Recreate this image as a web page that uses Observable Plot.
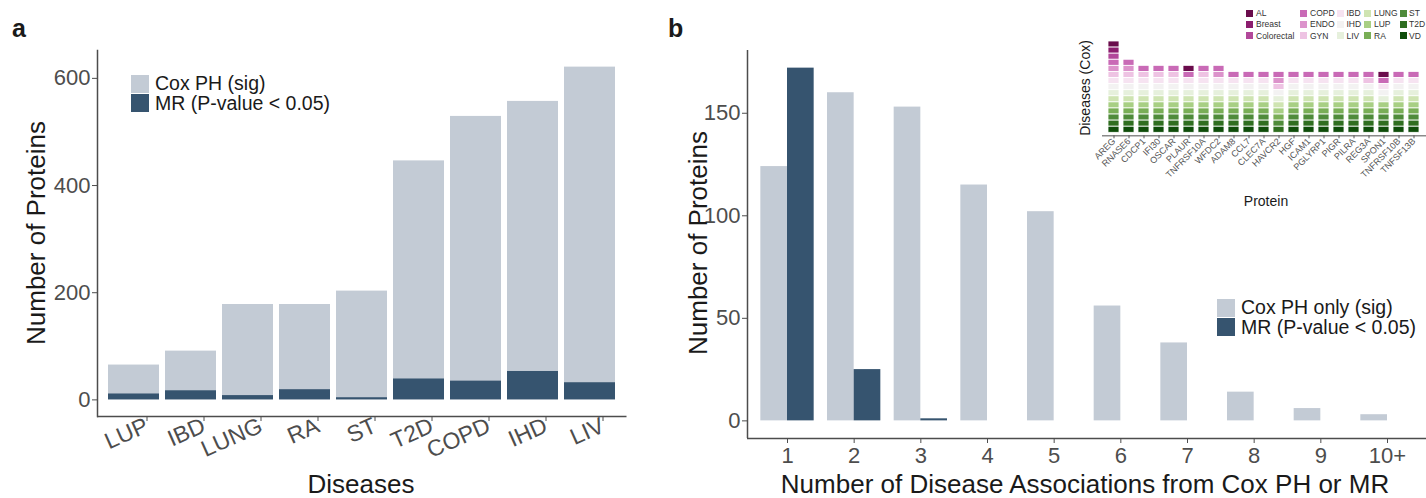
<!DOCTYPE html>
<html>
<head>
<meta charset="utf-8">
<script src="https://cdn.jsdelivr.net/npm/d3@7"></script>
<script src="https://cdn.jsdelivr.net/npm/@observablehq/plot@0.6"></script>
<style>
  html, body { margin: 0; padding: 0; background: #fff; overflow: hidden; }
  body { font-family: "Liberation Sans", Arial, Helvetica, sans-serif; color: #1a1a1a; }
  #fig { position: relative; width: 1426px; height: 498px; }
  .abs { position: absolute; white-space: nowrap; }
  .panel { font-weight: bold; font-size: 25px; }
  .title { font-size: 26px; }
  .vtitle { font-size: 26px; transform: translate(-50%, -50%) rotate(-90deg); }
  .htitle { transform: translate(-50%, -50%); }
  .sw { position: absolute; }
  .leg { font-size: 19.5px; line-height: 20px; }
  .ileg { font-size: 8.5px; line-height: 10px; color: #333; }
</style>
</head>
<body>
<div id="fig"></div>
<script>
// Panel a: proteins per disease (Cox PH significant vs MR P < 0.05)
const diseasesA = ["LUP", "IBD", "LUNG", "RA", "ST", "T2D", "COPD", "IHD", "LIV"];
const coxA = [65, 91, 178, 178, 203, 446, 529, 557, 621];
const mrA = [11, 17, 8, 19, 4, 39, 35, 53, 32];

// Panel b: proteins by number of disease associations
const assocCounts = [1, 2, 3, 4, 5, 6, 7, 8, 9, 10];
const assocLabels = ["1", "2", "3", "4", "5", "6", "7", "8", "9", "10+"];
const coxB = [124, 160, 153, 115, 102, 56, 38, 14, 6, 3];
const mrB = [172, 25, 1, 0, 0, 0, 0, 0, 0, 0];

// Inset: Cox-associated diseases of the most pleiotropic proteins
const proteins = ["AREG", "RNASE6", "CDCP1", "IFI30", "OSCAR", "PLAUR", "TNFRSF10A", "WFDC2",
  "ADAM8", "CCL7", "CLEC7A", "HAVCR2", "HGF", "ICAM1", "PGLYRP1", "PIGR", "PILRA", "REG3A",
  "SPON1", "TNFRSF10B", "TNFSF13B"];
const diseaseLevels = ["AL", "Breast", "Colorectal", "COPD", "ENDO", "GYN", "IBD", "IHD",
  "LIV", "LUNG", "LUP", "RA", "ST", "T2D", "VD"];
const diseaseColors = ["#6a0c4c", "#8c1d6e", "#b2489a", "#c96ab6", "#dc93cb", "#eec3e3",
  "#f6e3f1", "#f3f2f2", "#e6f0dc", "#cfe4b2", "#a8cf84", "#79ae56", "#4f8b3a", "#2f6e20", "#0f4d0a"];
const proteinDiseases = [
  ["AL", "Breast", "Colorectal", "COPD", "ENDO", "GYN", "IBD", "IHD", "LIV", "LUNG", "LUP", "RA", "ST", "T2D", "VD"],
  ["COPD", "GYN", "IBD", "IHD", "LIV", "LUNG", "LUP", "RA", "ST", "T2D", "VD", "ENDO"],
  ["COPD", "GYN", "IBD", "IHD", "LIV", "LUNG", "LUP", "RA", "ST", "T2D", "VD"],
  ["COPD", "GYN", "IBD", "IHD", "LIV", "LUNG", "LUP", "RA", "ST", "T2D", "VD"],
  ["COPD", "GYN", "IBD", "IHD", "LIV", "LUNG", "LUP", "RA", "ST", "T2D", "VD"],
  ["AL", "COPD", "IBD", "IHD", "LIV", "LUNG", "LUP", "RA", "ST", "T2D", "VD"],
  ["COPD", "GYN", "IBD", "IHD", "LIV", "LUNG", "LUP", "RA", "ST", "T2D", "VD"],
  ["COPD", "ENDO", "IBD", "IHD", "LIV", "LUNG", "LUP", "RA", "ST", "T2D", "VD"],
  ["COPD", "IBD", "IHD", "LIV", "LUNG", "LUP", "RA", "ST", "T2D", "VD"],
  ["COPD", "IBD", "IHD", "LIV", "LUNG", "LUP", "RA", "ST", "T2D", "VD"],
  ["COPD", "IBD", "IHD", "LIV", "LUNG", "LUP", "RA", "ST", "T2D", "VD"],
  ["COPD", "ENDO", "GYN", "IHD", "LIV", "LUNG", "LUP", "RA", "ST", "T2D"],
  ["COPD", "IBD", "IHD", "LIV", "LUNG", "LUP", "RA", "ST", "T2D", "VD"],
  ["COPD", "IBD", "IHD", "LIV", "LUNG", "LUP", "RA", "ST", "T2D", "VD"],
  ["COPD", "IBD", "IHD", "LIV", "LUNG", "LUP", "RA", "ST", "T2D", "VD"],
  ["COPD", "IBD", "IHD", "LIV", "LUNG", "LUP", "RA", "ST", "T2D", "VD"],
  ["COPD", "IBD", "IHD", "LIV", "LUNG", "LUP", "RA", "ST", "T2D", "VD"],
  ["COPD", "GYN", "IHD", "LIV", "LUNG", "LUP", "RA", "ST", "T2D", "VD"],
  ["AL", "COPD", "IBD", "IHD", "LIV", "LUP", "RA", "ST", "T2D", "VD"],
  ["COPD", "IBD", "IHD", "LIV", "LUNG", "LUP", "RA", "ST", "T2D", "VD"],
  ["COPD", "IBD", "IHD", "LIV", "LUNG", "LUP", "RA", "ST", "T2D", "VD"]
];

const COX = "#c3cbd5", MR = "#36546f", AXIS = "#4d4d4d";
const FONT = '"Liberation Sans", Arial, Helvetica, sans-serif';
const fig = document.getElementById("fig");

function place(node, left, top) {
  node.style.position = "absolute";
  node.style.left = left + "px";
  node.style.top = top + "px";
  fig.appendChild(node);
}
function text(str, cls, left, top, extra = "") {
  const d = document.createElement("div");
  d.className = "abs " + cls;
  d.textContent = str;
  d.style.cssText += `left:${left}px;top:${top}px;` + extra;
  fig.appendChild(d);
  return d;
}
function swatch(color, left, top, size) {
  const d = document.createElement("div");
  d.className = "sw";
  d.style.cssText = `left:${left}px;top:${top}px;width:${size}px;height:${size}px;background:${color};`;
  fig.appendChild(d);
}

// ---------- Panel a ----------
const rowsA = diseasesA.map((d, i) => ({disease: d, cox: coxA[i], mr: mrA[i]}));
const plotA = Plot.plot({
  width: 660, height: 498,
  marginLeft: 97, marginRight: 33.5, marginTop: 50, marginBottom: 82,
  style: {fontFamily: FONT, overflow: "visible", background: "transparent"},
  x: {domain: diseasesA, paddingInner: 0.1, paddingOuter: 0.15, label: null},
  y: {domain: [-31, 652], label: null},
  marks: [
    Plot.barY(rowsA, {x: "disease", y1: 0, y2: "cox", fill: COX}),
    Plot.barY(rowsA, {x: "disease", y1: 0, y2: "mr", fill: MR}),
    Plot.ruleY([-31], {stroke: AXIS, strokeWidth: 1.5}),
    Plot.frame({anchor: "left", stroke: AXIS, strokeWidth: 1.5}),
    Plot.axisY({ticks: [0, 200, 400, 600], tickSize: 5, tickPadding: 2, fontSize: 22, color: AXIS, label: null}),
    Plot.axisX({tickSize: 5, tickPadding: 3, tickRotate: -24, fontSize: 23, color: AXIS, label: null, dx: 13})
  ]
});
place(plotA, 0, 0);

text("a", "panel", 12, 14);
text("Number of Proteins", "vtitle", 36, 233);
text("Diseases", "title htitle", 361, 484);
swatch(COX, 131, 75, 17.5);
swatch(MR, 131, 94, 17.5);
text("Cox PH (sig)", "leg", 155, 73);
text("MR (P-value < 0.05)", "leg", 155, 93);

// ---------- Panel b ----------
const rowsB = assocCounts.map((k, i) => ({k, cox: coxB[i], mr: mrB[i]}));
const plotB = Plot.plot({
  width: 767, height: 498,
  marginLeft: 87, marginRight: 0, marginTop: 50, marginBottom: 60,
  style: {fontFamily: FONT, overflow: "visible", background: "transparent"},
  x: {domain: [0.4, 10.6], label: null},
  y: {domain: [-8.6, 180.6], label: null},
  marks: [
    Plot.rectY(rowsB, {x1: d => d.k - 0.4, x2: d => d.k, y1: 0, y2: "cox", fill: COX}),
    Plot.rectY(rowsB.filter(d => d.mr > 0), {x1: d => d.k, x2: d => d.k + 0.4, y1: 0, y2: "mr", fill: MR}),
    Plot.ruleY([-8.6], {stroke: AXIS, strokeWidth: 1.5}),
    Plot.ruleX([0.4], {stroke: AXIS, strokeWidth: 1.5}),
    Plot.axisY({ticks: [0, 50, 100, 150], tickSize: 5, tickPadding: 2, fontSize: 22, color: AXIS, label: null}),
    Plot.axisX({ticks: assocCounts, tickFormat: k => assocLabels[k - 1], tickSize: 5, tickPadding: 4,
      fontSize: 22, color: AXIS, label: null})
  ]
});
place(plotB, 660, 0);

text("b", "panel", 668, 14);
text("Number of Proteins", "vtitle", 698, 243);
text("Number of Disease Associations from Cox PH or MR", "title htitle", 1085, 484);
swatch(COX, 1217, 299, 17.5);
swatch(MR, 1217, 318, 17.5);
text("Cox PH only (sig)", "leg", 1241, 297);
text("MR (P-value < 0.05)", "leg", 1241, 317);

// ---------- Inset: stacked disease tiles per protein ----------
const tiles = proteins.flatMap((p, i) => proteinDiseases[i].map(d => ({protein: p, disease: d, n: 1})));
const inset = Plot.plot({
  width: 356, height: 215,
  marginLeft: 32, marginRight: 0, marginTop: 41, marginBottom: 82.7,
  style: {fontFamily: FONT, overflow: "visible", background: "transparent"},
  x: {domain: proteins, paddingInner: 0.25, paddingOuter: 0.2, label: null},
  y: {domain: [0, 15], label: null, axis: null},
  color: {domain: diseaseLevels, range: diseaseColors},
  marks: [
    Plot.barY(tiles, {x: "protein", y: "n", fill: "disease", z: "disease",
      order: diseaseLevels.slice().reverse(), stroke: "white", strokeWidth: 0.8}),
    Plot.ruleY([-0.5], {stroke: "#8a8a8a", strokeWidth: 1.5}),
    Plot.axisX({tickSize: 3, tickPadding: 1, tickRotate: -45, fontSize: 9, color: "#555", dy: 3, label: null})
  ]
});
place(inset, 1070, 0);

text("Diseases (Cox)", "vtitle", 1085, 88, "font-size:14px;");
text("Protein", "htitle", 1266, 201, "font-size:14px;");

// inset legend: five columns of three entries
const legCols = [1246, 1300, 1336.5, 1364, 1400];
const legRows = [13, 24.3, 35.7];
diseaseLevels.forEach((d, i) => {
  const c = Math.floor(i / 3), r = i % 3;
  swatch(diseaseColors[i], legCols[c], legRows[r] - 3.5, 7);
  text(d, "ileg", legCols[c] + (c === 4 ? 9 : 10), legRows[r] - 5);
});
</script>
</body>
</html>
